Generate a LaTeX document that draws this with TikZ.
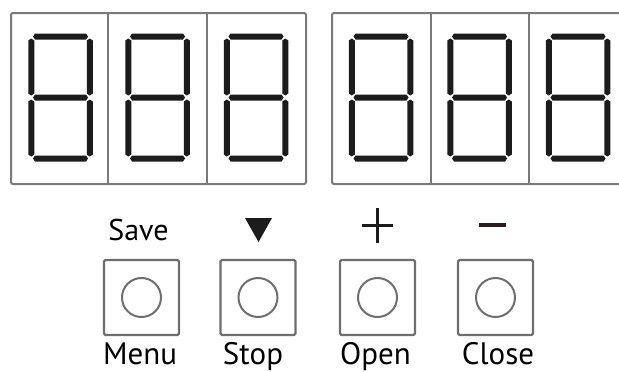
\documentclass[tikz,border=0pt]{standalone}
\usepackage{fontspec}
\setmainfont{PT Sans}
\definecolor{boxgray}{HTML}{7A7A7A}
\definecolor{btngray}{HTML}{6E6E6E}
\definecolor{segcol}{HTML}{1C1C1C}
\definecolor{minuscol}{HTML}{2A1C1C}
% horizontal segment: start x, y, inner length
\newcommand\hsegm[3]{\fill[segcol] (#1,#2) -- ++(2,-3) -- ++(#3,0) -- ++(2,3) -- ++(-2,3) -- ++(-#3,0) -- cycle;}
% vertical segment: x, start y, inner length
\newcommand\vsegm[3]{\fill[segcol] (#1,#2) -- ++(3,2) -- ++(0,#3) -- ++(-3,2) -- ++(-3,-2) -- ++(0,-#3) -- cycle;}
\newcommand\sevdigit[1]{%
  \begin{scope}[xshift=#1pt]
    \hsegm{-27.5}{36.5}{51}
    \hsegm{-27.5}{97.5}{51}
    \hsegm{-27.5}{158.5}{51}
    \vsegm{-29.25}{38.5}{53}
    \vsegm{29.25}{38.5}{53}
    \vsegm{-29.25}{99.5}{53}
    \vsegm{29.25}{99.5}{53}
  \end{scope}}
\begin{document}
\begin{tikzpicture}[x=1pt,y=-1pt,
  dispbox/.style={draw=boxgray,line width=2pt,rounded corners=2pt},
  divider/.style={draw=boxgray,line width=2pt},
  button/.style={draw=btngray,line width=2.4pt,rounded corners=1.5pt,minimum width=75pt,minimum height=75pt,inner sep=0pt},
  knob/.style={draw=btngray,line width=2pt,circle,minimum size=39pt,inner sep=0pt},
  toplabel/.style={anchor=base,font=\fontsize{30}{30}\selectfont,inner sep=0pt},
  botlabel/.style={anchor=base,font=\fontsize{31}{31}\selectfont,inner sep=0pt}]
\useasboundingbox (0,0) rectangle (619,372);
\begin{scope}
\clip (0,0) rectangle (619,372);
% display boxes
\draw[dispbox] (11,13) rectangle (306,184);
\draw[divider] (108,13) -- (108,184);
\draw[divider] (207,13) -- (207,184);
\draw[dispbox] (332,13) rectangle (640,184);
\draw[divider] (431,13) -- (431,184);
\draw[divider] (529,13) -- (529,184);
\end{scope}
\sevdigit{60.5}
\sevdigit{157.5}
\sevdigit{256}
\sevdigit{381}
\sevdigit{479.5}
\sevdigit{578}
% buttons
\node[button] (b1) at (141.5,297.5) {};
\node[button] (b2) at (258,297.5) {};
\node[button] (b3) at (377.5,297.5) {};
\node[button] (b4) at (495.5,297.5) {};
\node[knob] (c1) at (b1) {};
\node[knob] (c2) at (b2) {};
\node[knob] (c3) at (b3) {};
\node[knob] (c4) at (b4) {};
% top labels
\node[toplabel] (save) at (138.5,240) {Save};
\fill[segcol] (245,218) -- (272,218) -- (258.5,242) -- cycle;
\draw[segcol,line width=3pt] (362,225.5) -- (393,225.5);
\draw[segcol,line width=3pt] (377.5,208) -- (377.5,243);
\draw[minuscol,line width=3.5pt] (479,225) -- (506,225);
% bottom labels
\node[botlabel] (menu) at (140,364) {Menu};
\node[botlabel] (stop) at (253,364) {Stop};
\node[botlabel] (open) at (375.5,364) {Open};
\node[botlabel] (close) at (498,364) {Close};
\end{tikzpicture}
\end{document}
